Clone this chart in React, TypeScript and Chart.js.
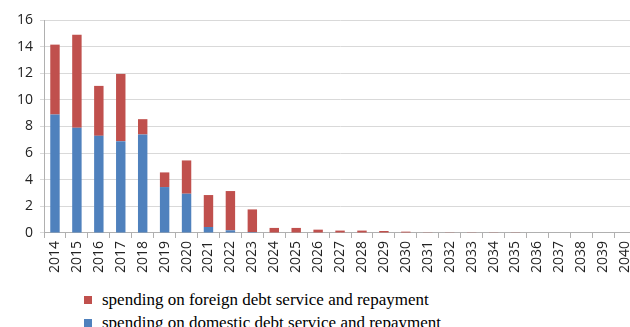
import React, { useEffect, useRef } from "react";
import { Chart, registerables } from "chart.js";

Chart.register(...registerables);

const years = [
  "2014", "2015", "2016", "2017", "2018", "2019", "2020", "2021", "2022", "2023",
  "2024", "2025", "2026", "2027", "2028", "2029", "2030", "2031", "2032", "2033",
  "2034", "2035", "2036", "2037", "2038", "2039", "2040",
];

const domestic = [
  8.9, 7.9, 7.3, 6.9, 7.4, 3.45, 2.95, 0.45, 0.2, 0.07,
  0, 0, 0, 0, 0, 0, 0, 0, 0, 0,
  0, 0, 0, 0, 0, 0, 0,
];

const foreign = [
  5.25, 7.0, 3.75, 5.05, 1.15, 1.1, 2.5, 2.4, 2.95, 1.7,
  0.38, 0.38, 0.25, 0.18, 0.18, 0.15, 0.1, 0.05, 0.05, 0.05,
  0.05, 0.05, 0, 0, 0, 0, 0,
];

const yTicks = [0, 2, 4, 6, 8, 10, 12, 14, 16];

const foreignLabel = "spending on foreign debt service and repayment";
const domesticLabel = "spending on domestic debt service and repayment";

const RED = "#C0504D";
const BLUE = "#4F81BD";

export default function App() {
  const canvasRef = useRef<HTMLCanvasElement | null>(null);

  useEffect(() => {
    const ctx = canvasRef.current;
    if (!ctx) return;
    const chart = new Chart(ctx, {
      type: "bar",
      data: {
        labels: years,
        datasets: [
          {
            label: domesticLabel,
            data: domestic,
            backgroundColor: BLUE,
            borderWidth: 0,
            categoryPercentage: 1,
            barPercentage: 0.43,
          },
          {
            label: foreignLabel,
            data: foreign,
            backgroundColor: RED,
            borderWidth: 0,
            categoryPercentage: 1,
            barPercentage: 0.43,
          },
        ],
      },
      options: {
        animation: false,
        responsive: false,
        maintainAspectRatio: false,
        layout: { padding: { top: 20, left: 10, right: 4, bottom: 0 } },
        plugins: {
          legend: { display: false },
          tooltip: { enabled: false },
        },
        scales: {
          x: {
            stacked: true,
            grid: {
              display: true,
              drawOnChartArea: false,
              drawTicks: true,
              tickLength: 5,
              offset: true,
              color: "#b0b0b0",
            },
            border: { display: true, color: "#b0b0b0" },
            ticks: {
              autoSkip: false,
              maxRotation: 90,
              minRotation: 90,
              padding: 3,
              color: "#222",
              font: { family: "'Open Sans'", size: 14 },
            },
          },
          y: {
            stacked: true,
            min: 0,
            max: 16,
            afterBuildTicks: (axis: any) => {
              axis.ticks = yTicks.map((v) => ({ value: v }));
            },
            grid: {
              color: "#d9d9d9",
              lineWidth: 1,
              tickLength: 4,
            },
            border: { display: true, color: "#b0b0b0" },
            ticks: {
              padding: 7,
              color: "#222",
              font: { family: "'Open Sans'", size: 14 },
            },
          },
        },
      },
    });
    return () => chart.destroy();
  }, []);

  const legendItem = (color: string, text: string) => (
    <div style={{ display: "flex", alignItems: "center", height: 23 }}>
      <span
        style={{
          display: "inline-block",
          width: 8,
          height: 8,
          background: color,
          marginRight: 10,
        }}
      />
      <span>{text}</span>
    </div>
  );

  return (
    <div
      style={{
        position: "absolute",
        left: 0,
        top: 0,
        width: 630,
        height: 327,
        overflow: "hidden",
        background: "#fff",
      }}
    >
      <canvas
        ref={canvasRef}
        width={645}
        height={276}
        style={{ position: "absolute", left: 0, top: 0, width: 645, height: 276 }}
      />
      <div
        style={{
          position: "absolute",
          left: 84,
          top: 288,
          fontFamily: "'Liberation Serif', 'Times New Roman', serif",
          fontSize: 17,
          color: "#000",
          whiteSpace: "nowrap",
        }}
      >
        {legendItem(RED, foreignLabel)}
        {legendItem(BLUE, domesticLabel)}
      </div>
    </div>
  );
}
